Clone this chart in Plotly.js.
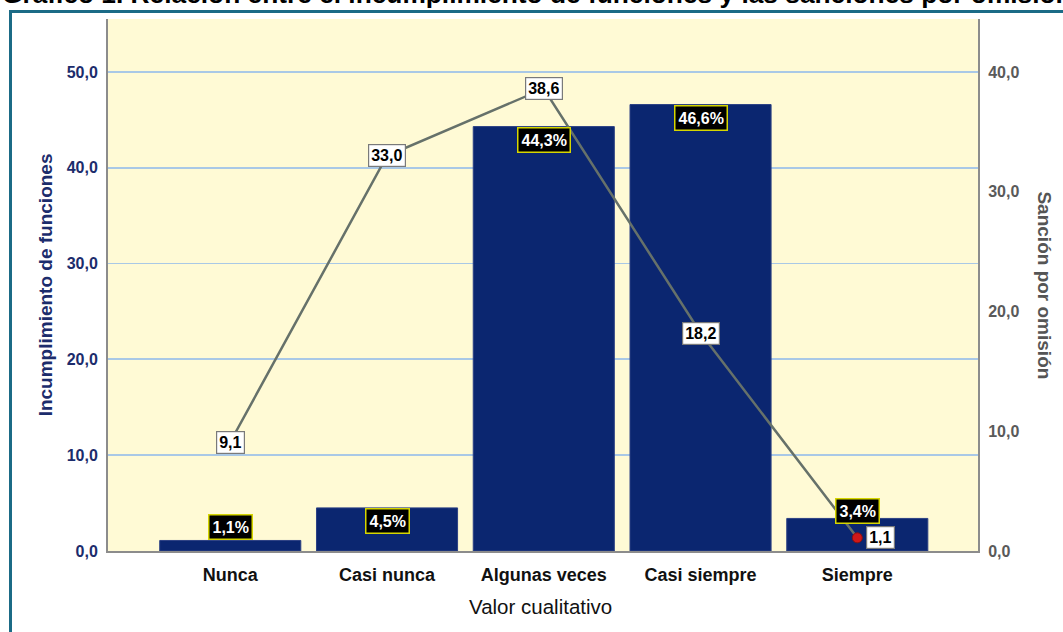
<!DOCTYPE html>
<html>
<head>
<meta charset="utf-8">
<script src="https://cdn.plot.ly/plotly-3.0.1.min.js"></script>
<style>
  html, body { margin: 0; padding: 0; overflow: hidden; background: #ffffff; }
  #wrap { position: relative; width: 1063px; height: 632px; overflow: hidden; }
  #chart { width: 1063px; height: 632px; }
  #frame { position: absolute; left: 9px; top: 10px; width: 1200px; height: 800px;
           border-top: 3px solid #1b6b86; border-left: 3px solid #1b6b86; pointer-events: none; }
</style>
</head>
<body>
<div id="wrap">
  <div id="chart"></div>
  <div id="frame"></div>
</div>
<script>
// ---- data ----
const categories = ["Nunca", "Casi nunca", "Algunas veces", "Casi siempre", "Siempre"];
const incumplimiento = [1.1, 4.5, 44.3, 46.6, 3.4];     // % (left axis, bars)
const sancion = [9.1, 33.0, 38.6, 18.2, 1.1];           // right axis, line
const leftTicks = [0, 10, 20, 30, 40, 50];
const rightTicks = [0, 10, 20, 30, 40];

const chartTitle = "Gráfico 1. Relación entre el incumplimiento de funciones y las sanciones por omisión";
const leftTitle = "Incumplimiento de funciones";
const rightTitle = "Sanción por omisión";
const xTitle = "Valor cualitativo";

// label placement styles (pixel offsets, not data)
const barLabelAnchor = ["bottom", "top", "top", "top", "top"];
const barLabelShift = [0, 0, 0, 0, 20];
const lineLabelXShift = [0, 0, 0, 0, 23];

const fmt = v => v.toFixed(1).replace(".", ",");

const navy = "#1c2c6c";
const font = "Liberation Sans, Arial, sans-serif";

const barTrace = {
  type: "bar",
  x: categories,
  y: incumplimiento,
  marker: { color: "#0b2670", line: { color: "#2c4084", width: 1 } },
  hoverinfo: "skip",
  yaxis: "y"
};

const lineTrace = {
  type: "scatter",
  mode: "lines+markers",
  x: categories,
  y: sancion,
  yaxis: "y2",
  line: { color: "#66716a", width: 2.5 },
  marker: { color: "#d01818", size: 10, line: { color: "#8a1010", width: 1 } },
  hoverinfo: "skip",
  cliponaxis: false
};

const annotations = [];
categories.forEach((c, i) => {
  annotations.push({
    xref: "x", yref: "y", x: c, y: incumplimiento[i],
    text: fmt(incumplimiento[i]) + "%",
    showarrow: false,
    xanchor: "center", yanchor: barLabelAnchor[i], yshift: barLabelShift[i],
    font: { family: font, size: 16, color: "#ffffff", weight: "bold" },
    bgcolor: "#000000", bordercolor: "#d6d600", borderwidth: 1.5, borderpad: 3
  });
});
categories.forEach((c, i) => {
  annotations.push({
    xref: "x", yref: "y2", x: c, y: sancion[i],
    text: fmt(sancion[i]),
    showarrow: false,
    xanchor: "center", yanchor: "middle", xshift: lineLabelXShift[i],
    font: { family: font, size: 16, color: "#000000", weight: "bold" },
    bgcolor: "#ffffff", bordercolor: "#7a7a7a", borderwidth: 1.2, borderpad: 2
  });
});
// chart title (cropped at the top edge as in the reference)
annotations.push({
  xref: "paper", yref: "paper", x: -0.1241, y: 1.047,
  text: "<b>" + chartTitle + "</b>", showarrow: false,
  xanchor: "left", yanchor: "middle",
  font: { family: font, size: 26.3, color: "#000000" }
});
annotations.push({
  xref: "paper", yref: "paper", x: -0.072, y: 0.5, textangle: -90,
  text: leftTitle, showarrow: false, xanchor: "center", yanchor: "middle",
  font: { family: font, size: 19, color: navy, weight: "bold" }
});
annotations.push({
  xref: "paper", yref: "paper", x: 1.0765, y: 0.5, textangle: 90,
  text: rightTitle, showarrow: false, xanchor: "center", yanchor: "middle",
  font: { family: font, size: 19, color: "#555555", weight: "bold" }
});
annotations.push({
  xref: "paper", yref: "paper", x: 0.4966, y: -0.105,
  text: xTitle, showarrow: false, xanchor: "center", yanchor: "middle",
  font: { family: font, size: 20.5, color: "#111111" }
});

const layout = {
  width: 1063, height: 632,
  margin: { l: 108, r: 85, t: 19, b: 81 },
  paper_bgcolor: "#ffffff",
  plot_bgcolor: "#fffad5",
  separators: ",.",
  showlegend: false,
  bargap: 0.1,
  xaxis: {
    type: "category",
    range: [-0.78, 4.77],
    showgrid: false,
    showline: true, linecolor: "#8c8c8c", linewidth: 2,
    ticks: "", ticklabelstandoff: 6,
    tickfont: { family: font, size: 18, color: "#111111", weight: "bold" },
    zeroline: false
  },
  yaxis: {
    range: [0, 55.53],
    tickvals: leftTicks,
    ticktext: leftTicks.map(fmt),
    showgrid: true, gridcolor: "#a9c8e6", gridwidth: 1.8,
    showline: true, linecolor: "#8c8c8c", linewidth: 2,
    ticks: "", ticklabelstandoff: 5,
    tickfont: { family: font, size: 16, color: navy, weight: "bold" },
    zeroline: false
  },
  yaxis2: {
    overlaying: "y", side: "right",
    range: [0, 44.42],
    tickvals: rightTicks,
    ticktext: rightTicks.map(fmt),
    showgrid: false,
    showline: true, linecolor: "#8c8c8c", linewidth: 2,
    ticks: "", ticklabelstandoff: 5,
    tickfont: { family: font, size: 16, color: "#5a5a5a", weight: "bold" },
    zeroline: false
  },
  annotations: annotations
};

Plotly.newPlot("chart", [barTrace, lineTrace], layout, { displayModeBar: false, staticPlot: true });
</script>
</body>
</html>
